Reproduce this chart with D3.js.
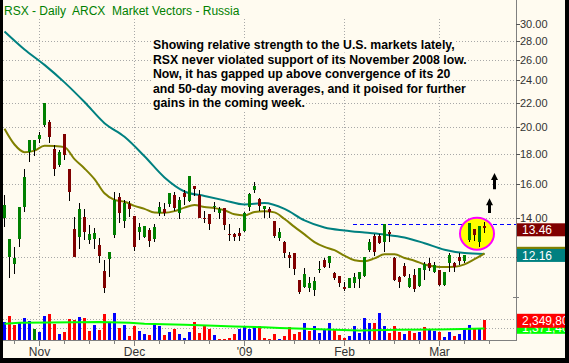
<!DOCTYPE html>
<html>
<head>
<meta charset="utf-8">
<script src="https://cdn.jsdelivr.net/npm/d3@7"></script>
<style>
body{margin:0;background:#000}
svg{display:block}
</style>
</head>
<body>
<svg id="chart" width="569" height="363"></svg>
<script>
// ---- data (RSX daily) ----
const firstDay = '2008-10-23', lastDay = '2009-03-13';
const holidays = ['2008-11-27', '2008-12-25', '2009-01-01', '2009-01-19', '2009-02-16'];
const monthLabels = ['Nov', 'Dec', "'09", 'Feb', 'Mar'];

const open = [13.99,12.01,11.69,12.89,14.61,18.11,18.25,19.06,20.13,20.37,18.33,17.22,19.44,16.95,13.40,12.99,14.05,12.84,12.89,12.59,11.37,11.92,13.09,15.19,13.83,14.78,14.10,13.24,12.99,13.35,12.89,14.27,14.50,14.78,15.31,14.27,15.43,14.96,15.86,15.31,14.00,14.22,14.61,14.27,14.55,13.14,13.14,13.19,13.30,14.61,15.61,15.08,14.50,14.50,13.83,12.94,12.74,12.11,12.20,10.98,10.68,10.64,10.55,11.42,11.87,11.73,11.28,11.15,10.68,10.64,10.85,11.02,11.15,12.34,13.04,13.04,12.74,13.24,11.97,11.11,11.60,10.68,11.19,10.72,11.42,11.73,11.33,11.42,10.77,11.73,11.73,12.01,11.83,12.84,13.40,12.74,13.56];
const high = [15.31,12.89,12.49,14.61,16.95,18.98,18.98,19.59,21.94,20.53,18.62,18.25,19.44,16.95,14.05,14.84,14.50,13.62,13.46,12.94,11.87,12.25,15.49,15.43,15.02,14.96,14.10,13.72,13.56,13.46,13.67,14.90,14.84,15.43,15.49,15.19,15.61,16.49,15.86,15.61,14.38,14.22,14.90,14.61,14.55,13.67,13.19,13.46,14.33,15.43,16.11,15.13,14.67,14.61,13.83,13.46,12.79,12.25,12.20,10.98,11.51,11.11,11.11,11.83,11.97,12.06,11.33,11.15,10.89,11.07,11.28,11.33,12.01,12.89,13.14,13.14,13.67,13.35,12.01,11.15,11.73,11.24,11.46,11.51,11.78,11.97,11.78,11.42,11.33,12.20,11.78,12.20,12.11,13.72,13.40,13.56,13.77];
const low = [13.51,11.07,11.24,12.49,14.33,17.42,17.83,18.76,19.98,18.76,16.49,17.09,17.55,14.96,12.01,12.39,12.84,12.64,12.39,11.73,10.44,11.11,12.94,13.72,13.46,14.05,12.30,12.84,12.94,12.49,12.74,14.10,14.10,14.61,14.38,13.94,14.72,14.90,15.25,13.99,13.72,13.35,14.33,13.94,13.35,12.79,12.79,12.79,13.24,14.38,15.43,14.38,13.99,13.99,12.94,12.79,11.97,11.51,11.19,10.40,10.64,10.48,10.31,11.28,11.51,11.51,10.98,10.68,10.52,10.64,10.64,10.64,11.11,12.25,12.06,12.64,12.25,12.74,10.94,10.64,11.11,10.64,10.48,10.68,10.98,11.37,11.28,10.72,10.72,11.33,11.33,11.64,11.73,12.74,12.79,12.49,13.19];
const close = [14.72,12.89,11.97,14.61,16.43,18.98,18.98,19.36,21.94,19.21,16.95,18.11,17.90,15.49,12.01,14.50,13.24,13.14,13.19,12.06,10.64,12.25,15.02,14.27,14.84,14.50,12.49,13.51,13.56,12.79,13.51,14.61,14.27,15.43,14.55,15.02,15.19,16.49,15.67,13.99,13.97,13.67,14.67,14.50,13.62,13.09,12.99,13.04,14.27,15.37,15.86,14.67,14.67,14.33,13.04,13.24,12.20,11.97,11.46,10.48,11.24,10.85,10.94,11.46,11.55,12.06,11.07,10.85,10.60,11.07,11.11,11.33,12.01,12.74,12.25,12.69,13.67,13.14,10.98,10.89,11.15,11.07,10.60,11.51,11.69,11.51,11.64,10.77,11.33,12.11,11.55,11.83,12.11,13.72,13.09,13.56,13.46];

// volume in millions of shares, colour code: b = up, r = down, g = unchanged
const volume = [2.14,2.87,1.78,1.99,2.63,2.27,1.27,1.02,2.87,3.11,1.90,0.70,0.94,2.51,2.39,2.75,2.63,1.06,1.78,1.18,3.11,2.14,3.23,1.42,1.78,0.46,1.66,1.06,0.70,0.63,1.99,1.66,0.58,1.02,1.27,0.70,0.22,1.02,2.11,0.82,1.75,1.27,0.58,0.18,0.18,0.30,0.78,1.27,1.63,1.27,1.63,1.63,0.30,0.18,0.78,0.18,0.46,1.51,0.78,1.02,1.99,1.14,1.63,0.90,1.27,1.99,1.27,0.66,0.30,0.54,1.63,0.90,2.71,1.99,1.99,3.31,1.63,0.90,1.63,1.02,0.78,1.14,0.90,1.02,1.51,1.27,1.14,1.02,0.42,1.02,0.54,0.78,1.27,1.75,1.39,1.39,2.3498];
const volDir = 'brrbbbgbbrrbrrrbrrbrrbbrbrrbbrbbrbrbbbrrrrbrrrrbbbbrrrrbrrrrbrbbbbrrrbbbbbrbbrrrbrrbrbbrbbrbbbrbr';

// moving averages sampled along the bars (bar index -> value)
const ma50At = [0,4,8,12,16,20,24,28,32,36,40,44,48,52,56,60,64,68,72,76,80,84,88,92,96];
const ma50 = [29.08,27.10,25.51,23.82,22.05,20.30,19.24,17.83,16.41,15.53,15.26,15.00,14.76,14.84,14.51,13.87,13.49,13.33,13.22,13.12,12.97,12.68,12.36,12.20,12.16];
const ma20At = d3.range(0, 97, 2);
const ma20 = [19.86,18.67,18.12,18.23,18.58,18.56,18.48,17.63,17.00,16.30,15.42,15.03,14.92,14.68,14.51,14.30,14.29,14.38,14.58,14.73,14.61,14.55,14.43,14.20,14.14,14.33,14.38,14.31,13.94,13.52,13.13,12.74,12.50,12.34,12.08,11.86,11.82,11.95,12.14,12.14,11.97,11.84,11.67,11.58,11.55,11.56,11.67,11.91,12.19];
const volMaAt = [0,3,9,19,25,28,36,42,46,52,55,60,66,71,79,87,96];
const volMa = [1.95,2.07,2.11,2.17,2.07,1.95,1.83,1.71,1.63,1.53,1.45,1.35,1.23,1.14,1.22,1.28,1.3714];

const priceTicks = [12,14,16,18,20,22,24,26,28,30];
const priceLabels = [14,16,18,20,22,24,26,28,30];
const volGrid = [1.5, 2.5];
const resistance = 13.67;
const arrows = [{at: 97, top: 15.13, base: 14.27}, {at: 98, top: 16.69, base: 15.67}];
const noteLines = [
  'Showing relative strength to the U.S. markets lately,',
  'RSX never violated support of its November 2008 low.',
  'Now, it has gapped up above convergence of its 20',
  'and 50-day moving averages, and it poised for further',
  'gains in the coming week.'
];

// ---- trading days ----
const parse = d3.utcParse('%Y-%m-%d'), fmt = d3.utcFormat('%Y-%m-%d');
const days = d3.utcDays(parse(firstDay), d3.utcDay.offset(parse(lastDay), 1))
  .filter(d => d.getUTCDay() % 6 !== 0 && !holidays.includes(fmt(d)));

const bars = days.map((d, i) => ({i, d, o: open[i], h: high[i], l: low[i], c: close[i], v: volume[i], dir: volDir[i]}));

// ---- layout ----
const W = 569, H = 363, bg = '#fffbf0';
const axisX = 516, baseY = 340;
const svg = d3.select('#chart');
const font = '"Liberation Sans", Arial, sans-serif';

const x = d3.scaleLinear().domain([0, days.length - 1]).range([4.5, 484.5]);
const y = d3.scaleLog().domain([12, 30]).range([257.3, 23.5]);
const yv = d3.scaleLinear().domain([0, 4]).range([baseY, baseY - 33.2]);

svg.append('rect').attr('width', W).attr('height', H).attr('fill', '#000');
svg.append('rect').attr('x', 3).attr('y', 0).attr('width', 562).attr('height', 358).attr('fill', bg);

// title
svg.append('text').attr('x', 4).attr('y', 15)
  .attr('font-family', font).attr('font-size', 12).attr('fill', '#008000')
  .style('white-space', 'pre')
  .text('RSX - Daily  ARCX  Market Vectors - Russia');

// grid
const grid = svg.append('g').attr('stroke', '#a8a8a8').attr('stroke-dasharray', '1,2');
grid.selectAll('.hg').data(priceTicks.filter(p => p < 30)).enter().append('line')
  .attr('x1', 3).attr('x2', axisX - 2)
  .attr('y1', d => Math.round(y(d)) + 0.5).attr('y2', d => Math.round(y(d)) + 0.5);
grid.selectAll('.vg').data(volGrid).enter().append('line')
  .attr('x1', 3).attr('x2', axisX - 2)
  .attr('y1', d => Math.round(yv(d)) + 0.5).attr('y2', d => Math.round(yv(d)) + 0.5);

const monthStarts = bars.filter((b, i) => i > 0 && b.d.getUTCMonth() !== bars[i - 1].d.getUTCMonth()).map(b => b.i);
grid.selectAll('.mg').data(monthStarts).enter().append('line')
  .attr('x1', d => x(d)).attr('x2', d => x(d))
  .attr('y1', 19).attr('y2', baseY);

// note text with background
const note = svg.append('g').attr('font-family', font).attr('font-weight', 'bold')
  .attr('font-size', 12).attr('fill', '#000');
const noteTexts = note.selectAll('text').data(noteLines).enter().append('text')
  .attr('x', 0).attr('y', (d, i) => 49.5 + i * 14.4).text(d => d);
const w0 = noteTexts.node().getComputedTextLength();
const sx = 302 / w0;
note.attr('transform', `translate(153,0) scale(${sx},1)`);
noteTexts.each(function () {
  const b = this.getBBox();
  note.insert('rect', 'text').attr('x', b.x - 1).attr('y', b.y + 1).attr('width', b.width + 2)
    .attr('height', b.height - 1).attr('fill', bg);
});

// resistance line
svg.append('line').attr('x1', 353).attr('x2', axisX)
  .attr('y1', Math.round(y(resistance)) + 0.5).attr('y2', Math.round(y(resistance)) + 0.5)
  .attr('stroke', '#0000ff').attr('stroke-dasharray', '4,3');

// moving averages
const line = d3.line().x(d => x(d[0])).y(d => y(d[1])).curve(d3.curveMonotoneX);
svg.append('path').datum(d3.zip(ma50At, ma50)).attr('d', line)
  .attr('fill', 'none').attr('stroke', '#008080').attr('stroke-width', 2);
svg.append('path').datum(d3.zip(ma20At, ma20)).attr('d', line)
  .attr('fill', 'none').attr('stroke', '#808000').attr('stroke-width', 2);

// highlight circle round the last four bars
const hl = bars.slice(-4);
const cx = (x(hl[0].i) + x(hl[3].i)) / 2;
const cy = (y(d3.max(hl, b => b.h)) + y(d3.min(hl, b => b.l))) / 2;
svg.append('ellipse').attr('cx', cx).attr('cy', cy - 1).attr('rx', 17).attr('ry', 16)
  .attr('fill', '#ffff00').attr('stroke', '#ff00ff').attr('stroke-width', 2);

// candles
const cg = svg.append('g');
cg.selectAll('.wick').data(bars).enter().append('rect')
  .attr('x', d => x(d.i) - 0.5).attr('width', 1)
  .attr('y', d => Math.round(y(d.h))).attr('height', d => Math.max(1, Math.round(y(d.l)) - Math.round(y(d.h))))
  .attr('fill', '#000');
cg.selectAll('.body').data(bars).enter().append('rect')
  .attr('x', d => x(d.i) - 1.5).attr('width', 3)
  .attr('y', d => Math.round(y(Math.max(d.o, d.c))))
  .attr('height', d => Math.max(1, Math.round(y(Math.min(d.o, d.c))) - Math.round(y(Math.max(d.o, d.c)))))
  .attr('fill', d => d.c >= d.o ? '#008000' : '#800000');

// arrows
const arrowPath = a => {
  const cxA = x(a.at), t = y(a.top), b = y(a.base);
  return `M${cxA},${t}L${cxA + 3.5},${t + 7}L${cxA + 1.5},${t + 7}L${cxA + 1.5},${b}L${cxA - 1.5},${b}L${cxA - 1.5},${t + 7}L${cxA - 3.5},${t + 7}Z`;
};
svg.selectAll('.arrow').data(arrows).enter().append('path').attr('d', arrowPath).attr('fill', '#000');

// volume
const volColor = {b: '#0000ff', r: '#ff0000', g: '#008000'};
svg.append('g').selectAll('rect').data(bars).enter().append('rect')
  .attr('x', d => x(d.i) - 1.5).attr('width', 3)
  .attr('y', d => Math.round(yv(d.v))).attr('height', d => baseY - Math.round(yv(d.v)))
  .attr('fill', d => volColor[d.dir]);
svg.append('path').datum(d3.zip(volMaAt, volMa))
  .attr('d', d3.line().x(d => x(d[0])).y(d => yv(d[1])))
  .attr('fill', 'none').attr('stroke', '#00ff00').attr('stroke-width', 2);

// axes
svg.append('line').attr('x1', axisX + 0.5).attr('x2', axisX + 0.5).attr('y1', 0).attr('y2', baseY + 1)
  .attr('stroke', '#808080');
svg.append('line').attr('x1', 3).attr('x2', axisX).attr('y1', baseY + 0.5).attr('y2', baseY + 0.5)
  .attr('stroke', '#808080');
svg.append('line').attr('x1', axisX - 3).attr('x2', axisX + 3).attr('y1', 297.5).attr('y2', 297.5)
  .attr('stroke', '#808080');

const yAxis = svg.append('g').attr('font-family', font).attr('font-size', 11).attr('fill', '#333');
priceTicks.forEach(p => {
  const yy = Math.round(y(p)) + 0.5;
  yAxis.append('line').attr('x1', axisX).attr('x2', axisX + 4).attr('y1', yy).attr('y2', yy).attr('stroke', '#555');
});
priceLabels.forEach(p => {
  yAxis.append('text').attr('x', axisX + 4).attr('y', Math.round(y(p)) + 0.5).attr('dy', '0.35em').text(p.toFixed(2));
});

// x ticks: month starts plus every 5 bars inside each month
const minorTicks = [];
monthStarts.forEach((s, k) => {
  const next = k < monthStarts.length - 1 ? monthStarts[k + 1] : 100;
  for (let t = s + 5; t <= next - 3; t += 5) minorTicks.push(t);
});
for (let t = monthStarts[0] - 5; t >= 0; t -= 5) minorTicks.push(t);
const xAxis = svg.append('g').attr('stroke', '#808080');
xAxis.selectAll('.mt').data(minorTicks).enter().append('line')
  .attr('x1', d => x(d)).attr('x2', d => x(d)).attr('y1', baseY).attr('y2', baseY + 4);
xAxis.selectAll('.Mt').data(monthStarts).enter().append('line')
  .attr('x1', d => x(d)).attr('x2', d => x(d)).attr('y1', baseY).attr('y2', baseY + 6);
svg.append('g').attr('font-family', font).attr('font-size', 12).attr('fill', '#333')
  .attr('text-anchor', 'middle')
  .selectAll('text').data(monthStarts).enter().append('text')
  .attr('x', d => x(d)).attr('y', 356).text((d, k) => monthLabels[k]);

// value flags on the right (the 20-day flag sits under the 50-day one)
const flag = (v, scale, fill, text, dy, h) => {
  const yy = scale(v) + dy;
  svg.append('rect').attr('x', axisX + 1).attr('y', yy - h / 2).attr('width', 50).attr('height', h).attr('fill', fill);
  if (text) {
    svg.append('text').attr('x', axisX + 6).attr('y', yy).attr('dy', '0.36em')
      .attr('font-family', font).attr('font-size', 12).attr('fill', '#fff').text(text);
  }
};
const last = bars[bars.length - 1];
flag(ma20[ma20.length - 1], y, '#808000', null, 0, 13);
flag(ma50[ma50.length - 1], y, '#008080', d3.format('.2f')(ma50[ma50.length - 1]), 1.5, 13);
flag(last.c, y, '#800000', d3.format('.2f')(last.c), 1.8, 13);
flag(volMa[volMa.length - 1], yv, '#00ff00', d3.format(',')(Math.round(volMa[volMa.length - 1] * 1e6)), -0.8, 12);
flag(last.v, yv, '#ff0000', d3.format(',')(Math.round(last.v * 1e6)), 0.3, 14);

// frame
svg.append('rect').attr('x', 0).attr('y', 0).attr('width', 3).attr('height', H).attr('fill', '#000');
svg.append('rect').attr('x', 565).attr('y', 0).attr('width', 4).attr('height', H).attr('fill', '#000');
svg.append('rect').attr('x', 0).attr('y', 358).attr('width', W).attr('height', 5).attr('fill', '#000');
</script>
</body>
</html>
